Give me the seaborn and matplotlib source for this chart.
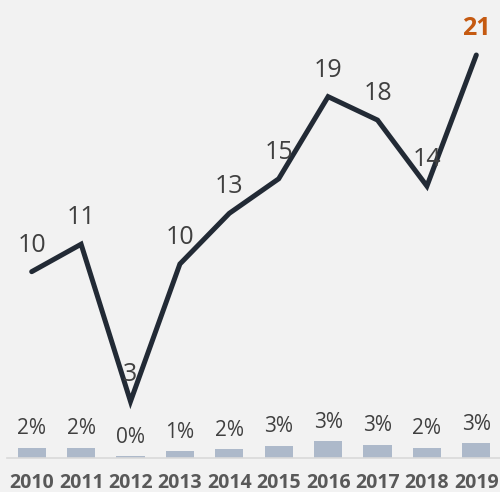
import matplotlib
matplotlib.use("Agg")
import matplotlib.pyplot as plt
import seaborn as sns
import numpy as np

# Data
years = ["2010", "2011", "2012", "2013", "2014", "2015", "2016", "2017", "2018", "2019"]
main_values = [9.71, 11.14, 2.95, 10.11, 12.75, 14.55, 18.83, 17.61, 14.17, 21.0]
share_pct = [2.1, 2.1, 0.4, 1.4, 1.8, 2.52, 3.45, 2.8, 2.1, 3.1]

BG = "#f2f2f2"
LINE_C = "#222a35"
BAR_C = "#adb9ca"
TXT_C = "#404040"
TICK_C = "#595959"
HILITE_C = "#c55a11"
GRID_C = "#d9d9d9"

sns.set_style("white")
plt.rcParams["font.family"] = ["Open Sans", "DejaVu Sans"]

fig = plt.figure(figsize=(5, 4.92), dpi=100, facecolor=BG)
ax = fig.add_axes([7 / 500, 34 / 492, 494 / 500, 458 / 492])
ax.set_facecolor(BG)

x = np.arange(len(years))

# Bars: share in percent
sns.barplot(x=years, y=share_pct, ax=ax, color=BAR_C, width=0.57,
            linewidth=0, saturation=1)
ax.set_ylim(0, 458 / 4.8)
ax.set_xlim(-0.5, len(years) - 0.5)

for i, v in enumerate(share_pct):
    ax.annotate(f"{v:.0f}%", (i, v), xytext=(0, 9.7), textcoords="offset points",
                ha="center", va="baseline", fontsize=15, color=TXT_C)

# Line on its own value scale
ax2 = ax.twinx()
ax2.set_position(ax.get_position())
sns.lineplot(x=x, y=main_values, ax=ax2, color=LINE_C, linewidth=3.6,
             solid_joinstyle="miter", solid_capstyle="round")
ax2.set_ylim(0, 458 / 19.19)
ax2.set_xlim(-0.5, len(years) - 0.5)
for line in ax2.get_lines():
    line.set_clip_on(False)

last = len(main_values) - 1
for i, v in enumerate(main_values):
    is_last = i == last
    ax2.annotate(f"{v:.0f}", (i, v), xytext=(0, 14.4), textcoords="offset points",
                 ha="center", va="baseline", fontsize=18,
                 color=HILITE_C if is_last else TXT_C,
                 fontweight="bold" if is_last else "normal")

# Axis styling
for a in (ax, ax2):
    for side in ("top", "right", "left"):
        a.spines[side].set_visible(False)
    a.set_yticks([])
    a.set_ylabel("")
    a.set_xlabel("")
ax2.spines["bottom"].set_visible(False)
ax2.set_xticks([])

ax.spines["bottom"].set_color(GRID_C)
ax.spines["bottom"].set_linewidth(1.2)
ax.set_xticks(x)
ax.set_xticklabels(years, fontsize=14, fontweight="bold", color=TICK_C)
ax.set_xticks(np.arange(-0.5, len(years), 1.0), minor=True)
ax.tick_params(axis="x", which="major", length=0, pad=10.5)
ax.tick_params(axis="x", which="minor", length=4.5, width=1.2, color=GRID_C)

fig.savefig("out.png", dpi=100, facecolor=BG)
